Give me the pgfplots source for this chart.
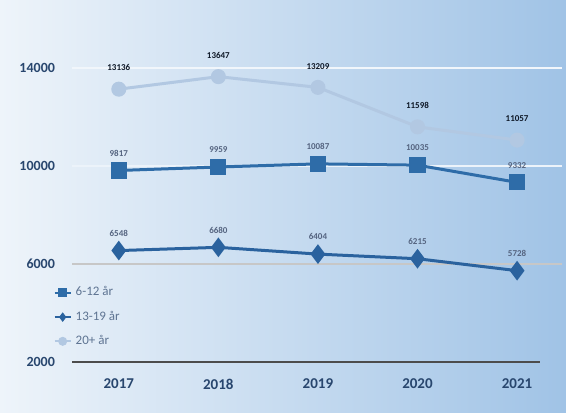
\documentclass[border=0pt]{standalone}
\usepackage{pgfplots}
\pgfplotsset{compat=1.18}
\usepackage{fontspec}
\setmainfont{Carlito}
\definecolor{bgl}{RGB}{238,244,250}
\definecolor{bgr}{RGB}{160,195,230}
\definecolor{cA}{RGB}{46,108,168}
\definecolor{cB}{RGB}{42,98,158}
\definecolor{cC}{RGB}{178,200,226}
\definecolor{tick}{RGB}{40,70,110}
\definecolor{lab}{RGB}{85,100,128}
\begin{document}
\begin{tikzpicture}
\shade[left color=bgl,right color=bgr] (0,0) rectangle (283pt,206pt);
\begin{axis}[
    at={(36pt,25pt)}, anchor=origin,
    scale only axis, width=234pt, height=159.25pt,
    xmin=2016.53, xmax=2021.23, ymin=2000, ymax=15000,
    axis line style={draw=none}, major tick length=0pt,
    xtick={2017,...,2021}, ytick={2000,6000,10000,14000},
    scaled y ticks=false,
    /pgf/number format/1000 sep={},
    /pgf/number format/assume math mode=true,
    yticklabel style={font=\fontsize{7}{8}\selectfont\bfseries, text=tick, xshift=-5pt},
    xticklabel style={font=\fontsize{7.5}{9}\selectfont\bfseries, text=tick, yshift=-5pt},
    clip=false,
    legend style={at={(-0.04,0.25)}, anchor=north west, draw=none, fill=none,
        font=\fontsize{6.5}{8}\selectfont, text=tick!75, row sep=2pt,
        inner sep=0pt},
    legend cell align=left,
    legend image code/.code={\draw[#1, line width=1pt] (0pt,0pt) -- (8pt,0pt);
        \draw[#1, mark size=2pt, line width=0.5pt] plot coordinates {(4pt,0pt)};},
    nodes near coords,
    every node near coord/.append style={font=\fontsize{4.5}{5}\selectfont\bfseries, text=lab, yshift=3pt},
]
\draw[white!85!bgr, line width=0.6pt] (axis cs:2016.53,14000) -- (axis cs:2021.45,14000);
\draw[white!80!bgr, line width=0.6pt] (axis cs:2016.53,10000) -- (axis cs:2021.45,10000);
\draw[black!22, line width=0.8pt] (axis cs:2016.53,6000) -- (axis cs:2021.45,6000);
\draw[black!70, line width=1.2pt] (axis cs:2016.53,2000) -- (axis cs:2021.23,2000);
\addplot[cA, line width=1.5pt, mark=square*, mark size=3.3pt, mark options={fill=cA, draw=cA}]
  coordinates {(2017,9817) (2018,9959) (2019,10087) (2020,10035) (2021,9332)};
\addlegendentry{6-12 år}
\addplot[cB, line width=1.5pt, mark=diamond*, mark size=3.7pt, mark options={fill=cB, draw=cB}]
  coordinates {(2017,6548) (2018,6680) (2019,6404) (2020,6215) (2021,5728)};
\addlegendentry{13-19 år}
\addplot[cC, line width=1.5pt, mark=*, mark size=3pt, mark options={fill=cC, draw=cC},
    every node near coord/.append style={text=black!65!tick, yshift=2pt}]
  coordinates {(2017,13136) (2018,13647) (2019,13209) (2020,11598) (2021,11057)};
\addlegendentry{20+ år}
\end{axis}
\end{tikzpicture}
\end{document}
